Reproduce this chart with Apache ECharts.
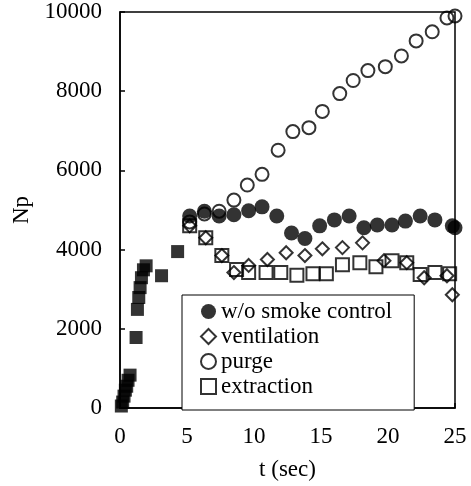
<!DOCTYPE html>
<html><head><meta charset="utf-8">
<script src="https://cdn.jsdelivr.net/npm/echarts@6/dist/echarts.min.js"></script>
<style>html,body{margin:0;padding:0;background:#fff}#c{width:471px;height:486px}</style>
</head><body><div id="c"></div>
<script>
// Early phase (all cases overlap) - filled squares
const earlyT = [0.1, 0.2, 0.3, 0.4, 0.5, 0.6, 0.75, 1.2, 1.3, 1.4, 1.5, 1.6, 1.75, 1.95, 3.1, 4.3];
const earlyNp = [50, 150, 300, 450, 550, 700, 830, 1780, 2490, 2790, 3040, 3290, 3490, 3590, 3340, 3950];

const noCtrlT = [5.2, 6.3, 7.4, 8.5, 9.6, 10.6, 11.7, 12.8, 13.8, 14.9, 16.0, 17.1, 18.2, 19.2, 20.3, 21.3, 22.4, 23.5, 24.8, 25.0];
const noCtrlNp = [4850, 4970, 4850, 4880, 4980, 5080, 4850, 4420, 4280, 4600, 4750, 4850, 4550, 4620, 4620, 4720, 4850, 4750, 4600, 4550];

const ventT = [5.2, 6.4, 7.6, 8.5, 9.6, 11.0, 12.4, 13.8, 15.1, 16.6, 18.1, 19.7, 21.4, 22.7, 24.4, 24.8];
const ventNp = [4600, 4300, 3850, 3420, 3600, 3750, 3920, 3850, 4020, 4050, 4170, 3720, 3670, 3290, 3340, 2860];

const purgeT = [5.2, 6.3, 7.4, 8.5, 9.5, 10.6, 11.8, 12.9, 14.1, 15.1, 16.4, 17.4, 18.5, 19.8, 21.0, 22.1, 23.3, 24.4, 25.0];
const purgeNp = [4700, 4900, 4970, 5250, 5630, 5900, 6510, 6980, 7080, 7490, 7940, 8270, 8520, 8620, 8890, 9270, 9500, 9850, 9900];

const extT = [5.2, 6.4, 7.6, 8.7, 9.6, 10.9, 12.0, 13.2, 14.4, 15.4, 16.6, 17.9, 19.1, 20.3, 21.4, 22.4, 23.5, 24.6];
const extNp = [4600, 4300, 3850, 3500, 3420, 3420, 3420, 3350, 3390, 3390, 3620, 3670, 3570, 3720, 3670, 3370, 3420, 3390];

const xTicks = {min: 0, max: 25, interval: 5};
const yTicks = {min: 0, max: 10000, interval: 2000};
const legendNames = ['w/o smoke control', 'ventilation', 'purge', 'extraction'];

const zip = (a, b) => a.map((v, i) => [v, b[i]]);
const font = 'Liberation Serif';
const chart = echarts.init(document.getElementById('c'), null, {renderer: 'canvas'});
const openStyle = {color: 'transparent', borderColor: '#000', borderWidth: 2};
chart.setOption({
  animation: false,
  backgroundColor: '#fff',
  grid: {left: 120, right: 16, top: 12, bottom: 75, show: true, borderColor: '#000', borderWidth: 1.5},
  xAxis: {
    type: 'value', min: xTicks.min, max: xTicks.max, interval: xTicks.interval,
    name: 't (sec)', nameLocation: 'middle', nameGap: 50,
    nameTextStyle: {fontFamily: font, fontSize: 23, color: '#000'},
    axisLine: {lineStyle: {color: '#000', width: 1.5}},
    axisTick: {inside: true, length: 5, lineStyle: {color: '#000', width: 1.5}},
    axisLabel: {fontFamily: font, fontSize: 23, color: '#000', margin: 17},
    splitLine: {show: false}
  },
  yAxis: {
    type: 'value', min: yTicks.min, max: yTicks.max, interval: yTicks.interval,
    name: 'Np', nameLocation: 'middle', nameGap: 84, nameRotate: 90,
    nameTextStyle: {fontFamily: font, fontSize: 23, color: '#000'},
    axisLine: {lineStyle: {color: '#000', width: 1.5}},
    axisTick: {inside: true, length: 5, lineStyle: {color: '#000', width: 1.5}},
    axisLabel: {fontFamily: font, fontSize: 23, color: '#000', margin: 18, formatter: v => String(v)},
    splitLine: {show: false}
  },
  legend: {
    data: legendNames, orient: 'vertical', left: 182, top: 295,
    padding: [5, 22, 12, 18], itemGap: 2, itemWidth: 15, itemHeight: 15,
    backgroundColor: '#fff', borderColor: '#000', borderWidth: 1, borderRadius: 0,
    textStyle: {fontFamily: font, fontSize: 23, color: '#000', lineHeight: 22},
    width: 193
  },
  series: [
    {name: 'early', type: 'scatter', symbol: 'rect', symbolSize: 13, z: 5,
     itemStyle: {color: '#000'}, data: zip(earlyT, earlyNp)},
    {name: legendNames[2], type: 'scatter', symbol: 'circle', symbolSize: 13, z: 2,
     itemStyle: openStyle, data: zip(purgeT, purgeNp)},
    {name: legendNames[1], type: 'scatter', symbol: 'diamond', symbolSize: 13, z: 3,
     itemStyle: openStyle, data: zip(ventT, ventNp)},
    {name: legendNames[3], type: 'scatter', symbol: 'rect', symbolSize: 13, z: 3,
     itemStyle: openStyle, data: zip(extT, extNp)},
    {name: legendNames[0], type: 'scatter', symbol: 'circle', symbolSize: 15, z: 4,
     itemStyle: {color: '#000'}, data: zip(noCtrlT, noCtrlNp)}
  ]
});
</script></body></html>
